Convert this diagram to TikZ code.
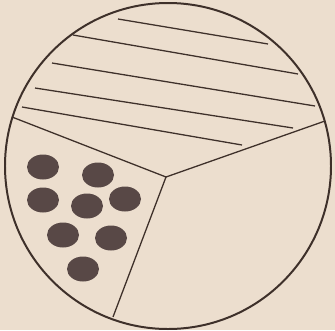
\documentclass[tikz,border=0pt]{standalone}
\usepackage{tikz}

\definecolor{papel}{RGB}{236,222,206}
\definecolor{tinta}{RGB}{62,48,42}
\definecolor{grano}{RGB}{88,72,70}

\begin{document}
\begin{tikzpicture}[x=0.03cm,y=-0.03cm,line width=1.1pt,draw=tinta]
  % fondo y marco
  \fill[papel] (0,0) rectangle (335,330);
  \useasboundingbox (0,0) rectangle (335,330);
  % circulo exterior
  \coordinate (c) at (168,166);
  \draw[line width=1.7pt] (c) circle(163);
  % divisiones desde el punto central
  \coordinate (o) at (166,177);
  \coordinate (izq) at (12,117);
  \coordinate (der) at (325,121);
  \coordinate (abajo) at (113,317);
  \draw (izq) -- (o) -- (der);
  \draw (o) -- (abajo);
  % rayado de la zona superior
  \foreach \xa/\ya/\xb/\yb in {118/19/268/44,73/35/298/74,52/63/315/106,35/88/293/128,22/107/242/145}
    \draw (\xa,\ya) -- (\xb,\yb);
  % puntos de la zona izquierda
  \foreach \px/\py in {43/167,98/175,43/200,87/206,125/199,63/235,111/238,83/269}
    \fill[grano] (\px,\py) ellipse[x radius=16,y radius=12.5];
\end{tikzpicture}
\end{document}
